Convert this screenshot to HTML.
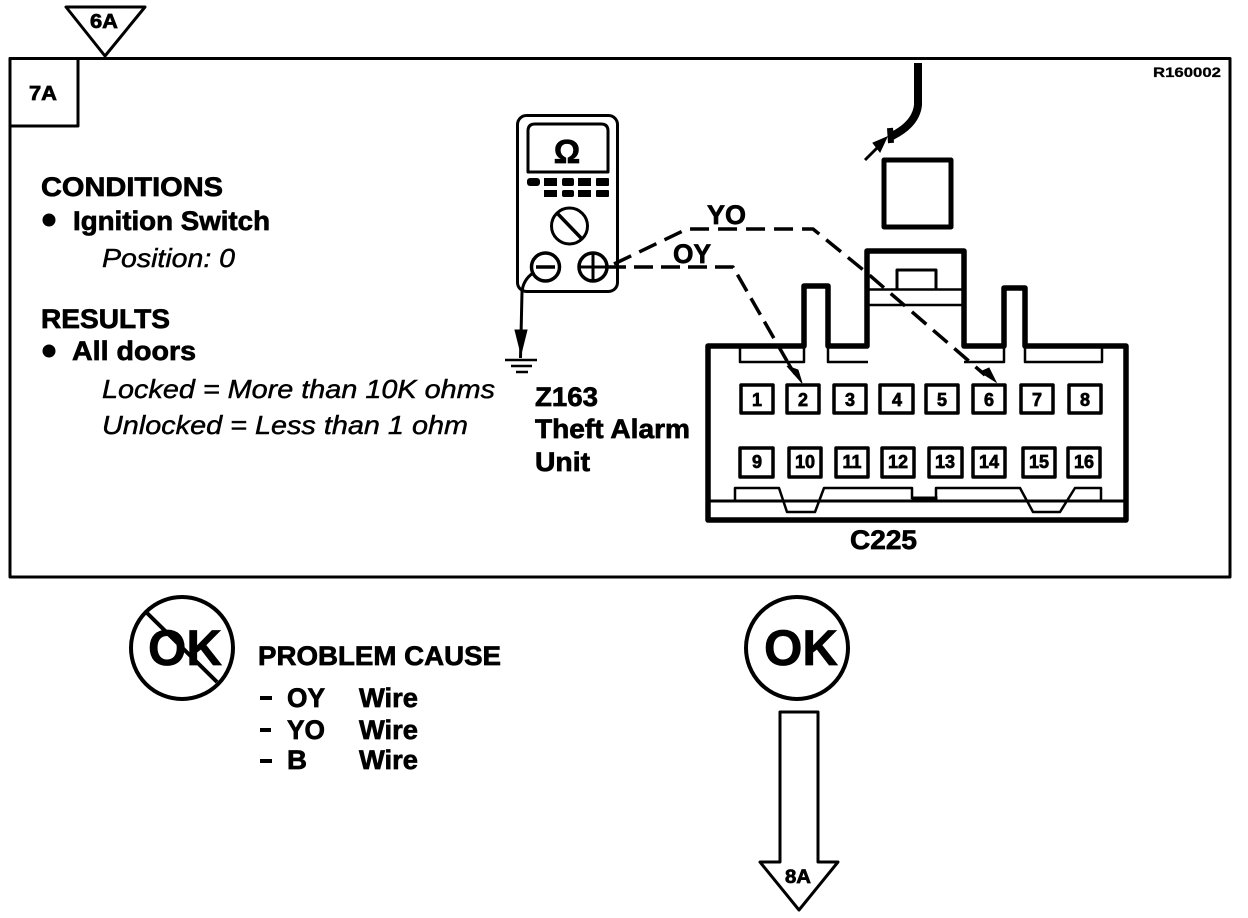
<!DOCTYPE html>
<html><head><meta charset="utf-8"><style>
html,body{margin:0;padding:0;background:#fff;width:1248px;height:918px;overflow:hidden}
svg{display:block}
text{font-family:"Liberation Sans",sans-serif;font-weight:bold;fill:#000;stroke:#000;stroke-width:.7}
.i{font-style:italic;font-weight:normal;stroke-width:.45}
.n{font-size:18px;text-anchor:middle}
.l{fill:none;stroke:#000;stroke-linejoin:round}
.f{fill:#000;stroke:#000}
</style></head><body>
<svg width="1248" height="918" viewBox="0 0 1248 918" xmlns="http://www.w3.org/2000/svg">
<rect width="1248" height="918" fill="#fff"/>
<!-- frame -->
<rect class="l" x="10" y="58.5" width="1220" height="518.5" stroke-width="3"/>
<rect class="l" x="10" y="58.5" width="68" height="67.5" stroke-width="3"/>
<polygon class="l" points="66,7 145,7 105,56" stroke-width="3"/>
<text x="90" y="28" font-size="20" textLength="28" lengthAdjust="spacingAndGlyphs">6A</text>
<text x="29" y="100" font-size="20" textLength="28" lengthAdjust="spacingAndGlyphs">7A</text>
<text x="1153" y="77" font-size="14" textLength="68" lengthAdjust="spacingAndGlyphs" style="stroke-width:.3">R160002</text>
<!-- left text -->
<text x="41" y="196" font-size="27" textLength="182" lengthAdjust="spacingAndGlyphs">CONDITIONS</text>
<circle class="f" cx="49" cy="220" r="6"/>
<text x="73" y="230" font-size="27" textLength="197" lengthAdjust="spacingAndGlyphs">Ignition Switch</text>
<text class="i" x="102" y="267" font-size="26" textLength="133" lengthAdjust="spacingAndGlyphs">Position: 0</text>
<text x="41" y="328" font-size="27" textLength="129" lengthAdjust="spacingAndGlyphs">RESULTS</text>
<circle class="f" cx="49" cy="351" r="6"/>
<text x="72" y="360" font-size="27" textLength="124" lengthAdjust="spacingAndGlyphs">All doors</text>
<text class="i" x="102" y="398" font-size="26" textLength="393" lengthAdjust="spacingAndGlyphs">Locked = More than 10K ohms</text>
<text class="i" x="102" y="434" font-size="26" textLength="366" lengthAdjust="spacingAndGlyphs">Unlocked = Less than 1 ohm</text>
<text x="535" y="406" font-size="27" textLength="63" lengthAdjust="spacingAndGlyphs">Z163</text>
<text x="535" y="438" font-size="27" textLength="155" lengthAdjust="spacingAndGlyphs">Theft Alarm</text>
<text x="535" y="471" font-size="27" textLength="55" lengthAdjust="spacingAndGlyphs">Unit</text>
<!-- meter -->
<rect class="l" x="517.5" y="115.5" width="100" height="176" rx="9" stroke-width="3"/>
<path class="l" d="M528 172V131Q528 124 535 124H601Q608 124 608 131V172Z" stroke-width="3"/>
<text x="567" y="163" font-size="33" text-anchor="middle">Ω</text>
<g fill="#000">
<rect x="527" y="178" width="13" height="8" rx="3"/>
<rect x="544" y="178" width="13" height="8"/>
<rect x="562" y="178" width="12" height="8" rx="2"/>
<rect x="578" y="178" width="13" height="8"/>
<rect x="596" y="178" width="13" height="8" rx="1"/>
<rect x="544" y="190" width="13" height="7"/>
<rect x="562" y="190" width="12" height="7" rx="2"/>
<rect x="578" y="190" width="13" height="7"/>
<rect x="596" y="190" width="13" height="7" rx="1"/>
</g>
<circle class="l" cx="569.5" cy="226" r="18" stroke-width="3"/>
<path class="l" d="M557 213L582 239" stroke-width="3.5"/>
<circle class="l" cx="545.5" cy="267" r="14" stroke-width="3.5"/>
<path class="l" d="M536 267H555" stroke-width="3.5"/>
<circle class="l" cx="593" cy="267" r="14" stroke-width="3.5"/>
<path class="l" d="M579 267H607M593 253V281" stroke-width="3"/>
<!-- ground -->
<path class="l" d="M533 273Q523 280 522 292L520.5 358" stroke-width="3"/>
<polygon class="f" points="515,330 527,330 521,354"/>
<path class="l" d="M505 360H537M511 366H532M516 372H528" stroke-width="2.5"/>
<!-- wires -->
<path class="l" d="M614 264L687 229H813L867 273L985 375" stroke-width="3.5" stroke-dasharray="19 9"/>
<path class="l" d="M607 267H733L787 361" stroke-width="3.5" stroke-dasharray="19 8"/>
<text x="707" y="224" font-size="27" textLength="39" lengthAdjust="spacingAndGlyphs">YO</text>
<text x="673" y="263" font-size="27" textLength="38" lengthAdjust="spacingAndGlyphs">OY</text>
<polygon class="f" points="787,366 798,370 802,383"/>
<path class="l" d="M787 361L795 374" stroke-width="3"/>
<polygon class="f" points="980,372 989,368 996,382"/>
<!-- top wire -->
<path class="l" d="M918 63V105Q916 124 892 136" stroke-width="8" stroke-linejoin="miter"/>
<path class="l" d="M890 128L891 143" stroke-width="6"/>
<path class="l" d="M865 160L880 145" stroke-width="3"/>
<polygon class="f" points="873,143 887,137 880,152"/>
<rect class="l" x="884" y="160" width="67" height="67" stroke-width="5"/>
<!-- connector -->
<path class="l" d="M708 520V346H804V286H828V346H867V251H964V346H1004V288H1025V346H1126V520Z" stroke-width="5.5"/>
<path class="l" d="M867 289.5H964M867 305H964" stroke-width="2.5"/>
<path class="l" d="M897 289V270H936V289" stroke-width="3"/>
<path class="l" d="M740 347V362H804V347M828 347V362H868M964 362H1004V347M1025 347V362H1102V347" stroke-width="2.5"/>
<path class="l" d="M708 501H1126" stroke-width="3"/>
<path class="l" d="M735 500V488H779L787 512H815L824 488H912V499M936 499V488H1020L1033 512H1060L1075 488H1101V500" stroke-width="2.5"/>
<rect class="f" x="912" y="497" width="25" height="5"/>
<!-- pins -->
<g class="l" fill="none" stroke-width="3.5">
<rect x="741" y="385" width="32" height="28"/>
<rect x="787" y="385" width="32" height="28"/>
<rect x="834" y="385" width="32" height="28"/>
<rect x="880" y="385" width="33" height="28"/>
<rect x="926" y="385" width="32" height="28"/>
<rect x="973" y="385" width="32" height="28"/>
<rect x="1021" y="385" width="32" height="28"/>
<rect x="1069" y="385" width="32" height="28"/>
<rect x="740" y="448" width="33" height="29"/>
<rect x="789" y="448" width="32" height="29"/>
<rect x="836" y="448" width="32" height="29"/>
<rect x="882" y="448" width="32" height="29"/>
<rect x="929" y="448" width="33" height="29"/>
<rect x="973" y="448" width="32" height="29"/>
<rect x="1023" y="448" width="32" height="29"/>
<rect x="1068" y="448" width="32" height="29"/>
</g>
<text class="n" x="757" y="406">1</text>
<text class="n" x="803" y="406">2</text>
<text class="n" x="850" y="406">3</text>
<text class="n" x="897" y="406">4</text>
<text class="n" x="942" y="406">5</text>
<text class="n" x="989" y="406">6</text>
<text class="n" x="1037" y="406">7</text>
<text class="n" x="1085" y="406">8</text>
<text class="n" x="757" y="468">9</text>
<text class="n" x="805" y="468">10</text>
<text class="n" x="852" y="468">11</text>
<text class="n" x="898" y="468">12</text>
<text class="n" x="945" y="468">13</text>
<text class="n" x="989" y="468">14</text>
<text class="n" x="1039" y="468">15</text>
<text class="n" x="1084" y="468">16</text>
<text x="850" y="549" font-size="27" textLength="67" lengthAdjust="spacingAndGlyphs">C225</text>
<!-- bottom left -->
<circle class="l" cx="182" cy="648" r="51" stroke-width="4"/>
<text x="148" y="665" font-size="50" textLength="74" lengthAdjust="spacingAndGlyphs">OK</text>
<path class="l" d="M146 612L217 682" stroke-width="4"/>
<text x="258" y="665" font-size="27" textLength="243" lengthAdjust="spacingAndGlyphs">PROBLEM CAUSE</text>
<path class="l" d="M260 698H272M260 730H271M260 761H272" stroke-width="4"/>
<text x="287" y="707" font-size="27" textLength="38" lengthAdjust="spacingAndGlyphs">OY</text>
<text x="359" y="707" font-size="27" textLength="59" lengthAdjust="spacingAndGlyphs">Wire</text>
<text x="287" y="739" font-size="27" textLength="38" lengthAdjust="spacingAndGlyphs">YO</text>
<text x="359" y="739" font-size="27" textLength="59" lengthAdjust="spacingAndGlyphs">Wire</text>
<text x="287" y="769" font-size="27" textLength="20" lengthAdjust="spacingAndGlyphs">B</text>
<text x="359" y="769" font-size="27" textLength="59" lengthAdjust="spacingAndGlyphs">Wire</text>
<!-- bottom right -->
<circle class="l" cx="797" cy="648" r="51" stroke-width="4"/>
<text x="764" y="665" font-size="50" textLength="74" lengthAdjust="spacingAndGlyphs">OK</text>
<polygon class="l" points="780,712 818,712 818,862 838,862 799,910 760,862 780,862" stroke-width="3"/>
<text x="785" y="883" font-size="19" textLength="26" lengthAdjust="spacingAndGlyphs">8A</text>
</svg>
</body></html>
